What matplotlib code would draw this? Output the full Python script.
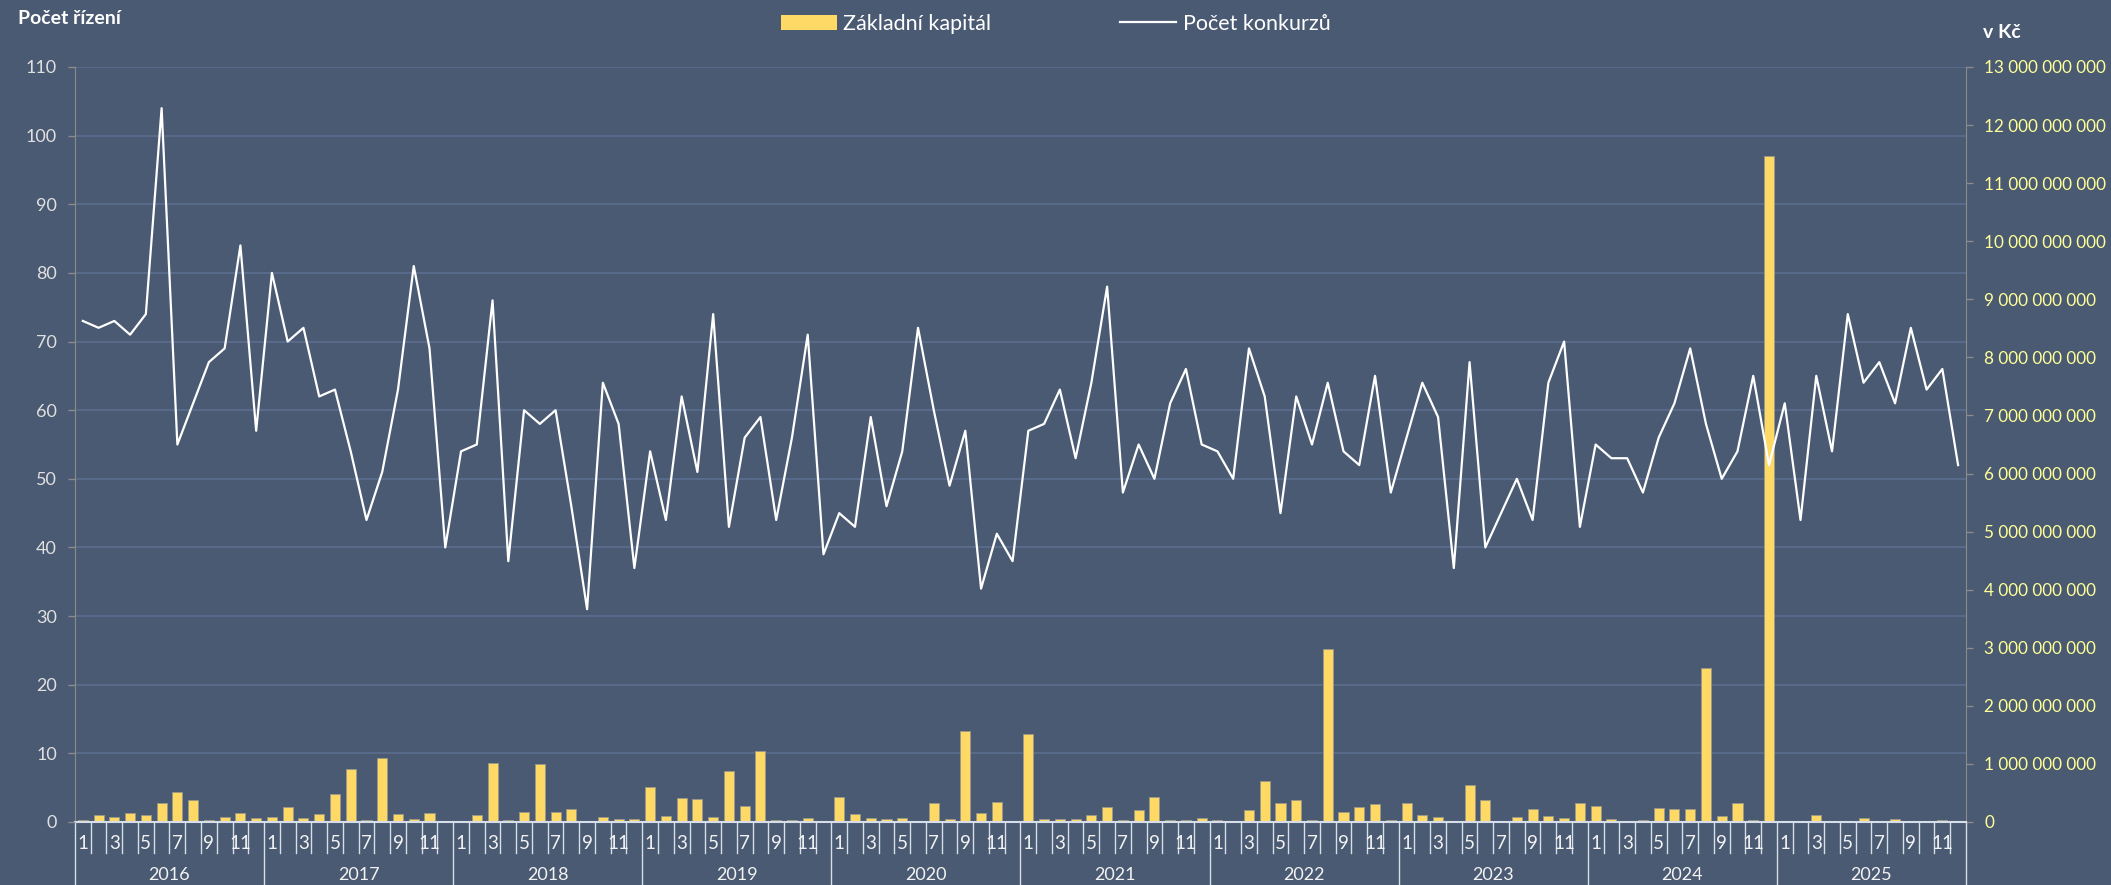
import numpy as np
import matplotlib
matplotlib.use("Agg")
import matplotlib.pyplot as plt
from matplotlib.transforms import blended_transform_factory
from matplotlib.ticker import FuncFormatter, MultipleLocator
from matplotlib.patches import Patch
from matplotlib.lines import Line2D

plt.rcParams['font.family'] = ['Lato', 'DejaVu Sans']

# data
years = [str(y) for y in range(2016, 2026)]
month_labels = ['1', '', '3', '', '5', '', '7', '', '9', '', '11', '']

pocet_konkurzu = [
    73, 72, 73, 71, 74, 104, 55, 61, 67, 69, 84, 57,   # 2016
    80, 70, 72, 62, 63, 54, 44, 51, 63, 81, 69, 40,    # 2017
    54, 55, 76, 38, 60, 58, 60, 46, 31, 64, 58, 37,    # 2018
    54, 44, 62, 51, 74, 43, 56, 59, 44, 56, 71, 39,    # 2019
    45, 43, 59, 46, 54, 72, 60, 49, 57, 34, 42, 38,    # 2020
    57, 58, 63, 53, 64, 78, 48, 55, 50, 61, 66, 55,    # 2021
    54, 50, 69, 62, 45, 62, 55, 64, 54, 52, 65, 48,    # 2022
    56, 64, 59, 37, 67, 40, 45, 50, 44, 64, 70, 43,    # 2023
    55, 53, 53, 48, 56, 61, 69, 58, 50, 54, 65, 52,    # 2024
    61, 44, 65, 54, 74, 64, 67, 61, 72, 63, 66, 52,    # 2025
]

# zakladni kapital in millions Kc
zakladni_kapital_mil = [
    30, 115, 80, 160, 120, 330, 520, 385, 35, 90, 160, 63,
    80, 250, 70, 140, 490, 910, 35, 1100, 144, 50, 155, 10,
    10, 115, 1020, 35, 180, 990, 180, 220, 5, 80, 50, 50,
    600, 110, 410, 400, 80, 870, 270, 1220, 35, 35, 70, 10,
    430, 140, 70, 50, 63, 17, 330, 46, 1570, 155, 345, 5,
    1510, 50, 50, 50, 120, 250, 35, 210, 425, 30, 30, 70,
    30, 10, 210, 710, 320, 385, 30, 2980, 180, 260, 310, 30,
    330, 120, 86, 10, 640, 370, 10, 90, 220, 100, 70, 320,
    280, 46, 17, 35, 240, 220, 220, 2660, 100, 330, 35, 11470,
    10, 10, 115, 10, 10, 63, 17, 50, 10, 10, 35, 10,
]
zakladni_kapital = np.array(zakladni_kapital_mil) * 1e6

count_max = 110
cap_max = 13e9

bg = '#4A5A72'
grid_col = '#5A6E8E'
spine_col = '#8C8C8C'
sep_col = '#D6DEEA'
bar_col = '#FFD966'

fig = plt.figure(figsize=(21.11, 8.85), dpi=100, facecolor=bg)
ax_bar = fig.add_axes([0.0355, 0.0712, 0.8958, 0.8531])
ax_line = ax_bar.twinx()

n = len(pocet_konkurzu)
x = np.arange(n) + 0.5

# grid lines follow the left (count) scale, drawn behind the bars
for v in range(10, count_max + 1, 10):
    ax_bar.axhline(v / count_max * cap_max, color=grid_col, lw=1.2, zorder=0)

ax_bar.bar(x, zakladni_kapital, width=0.64, color=bar_col,
           edgecolor='#9A9A8A', linewidth=0.6, zorder=2)
ax_line.plot(x, pocet_konkurzu, color='white', lw=1.6, zorder=3)

ax_bar.set_facecolor(bg)
ax_line.set_facecolor('none')
ax_bar.set_xlim(0, n)
ax_bar.set_ylim(0, cap_max)
ax_line.set_ylim(0, count_max)
ax_bar.set_xticks([])

# right axis (capital)
ax_bar.yaxis.set_ticks_position('right')
ax_bar.yaxis.set_major_locator(MultipleLocator(1e9))
ax_bar.yaxis.set_major_formatter(FuncFormatter(lambda v, _: f"{v:,.0f}".replace(',', ' ')))
ax_bar.tick_params(axis='y', colors=spine_col, labelcolor='#FFFF99',
                   labelsize=12.3, length=5, width=1, pad=8)

# left axis (count)
ax_line.yaxis.set_ticks_position('left')
ax_line.yaxis.set_major_locator(MultipleLocator(10))
ax_line.tick_params(axis='y', colors=spine_col, labelcolor='#E0E0E0',
                    labelsize=13, length=5, width=1, pad=8)

for sp in ax_line.spines.values():
    sp.set_visible(False)
ax_bar.spines['top'].set_visible(False)
ax_bar.spines['left'].set_color(spine_col)
ax_bar.spines['right'].set_color(spine_col)
ax_bar.spines['bottom'].set_color(sep_col)
ax_bar.spines['bottom'].set_linewidth(1.5)

# two-level category axis: months and years
tr = blended_transform_factory(ax_bar.transData, ax_bar.transAxes)
for i in range(n + 1):
    if i % 12 == 0:
        ax_bar.plot([i, i], [0, -0.085], transform=tr, clip_on=False,
                    color=sep_col, lw=1)
    else:
        ax_bar.plot([i, i], [0, -0.041], transform=tr, clip_on=False,
                    color=sep_col, lw=1)

for yi, year in enumerate(years):
    for mi, lab in enumerate(month_labels):
        if lab:
            ax_bar.text(yi * 12 + mi + 0.5, -0.028, lab, transform=tr,
                        ha='center', va='center', fontsize=13.5, color='#F2F2F2')
    ax_bar.text(yi * 12 + 6, -0.070, year, transform=tr,
                ha='center', va='center', fontsize=13, color='#F2F2F2')

# axis titles
fig.text(18 / 2111, 1 - 18 / 885, 'Počet řízení', fontsize=14,
         fontweight='bold', color='white', ha='left', va='center')
fig.text(1983 / 2111, 1 - 32 / 885, 'v Kč', fontsize=14,
         fontweight='bold', color='white', ha='left', va='center')

# legend
handles = [Patch(facecolor=bar_col, edgecolor='none'),
           Line2D([0], [0], color='white', lw=1.6)]
fig.legend(handles, ['Základní kapitál', 'Počet konkurzů'], ncol=2,
           loc='center', bbox_to_anchor=(0.5, 1 - 24 / 885), frameon=False,
           fontsize=15.5, labelcolor='white', handlelength=2.6,
           handleheight=0.75, handletextpad=0.3, columnspacing=6.0)

plt.savefig('out.png', dpi=100, facecolor=bg)
